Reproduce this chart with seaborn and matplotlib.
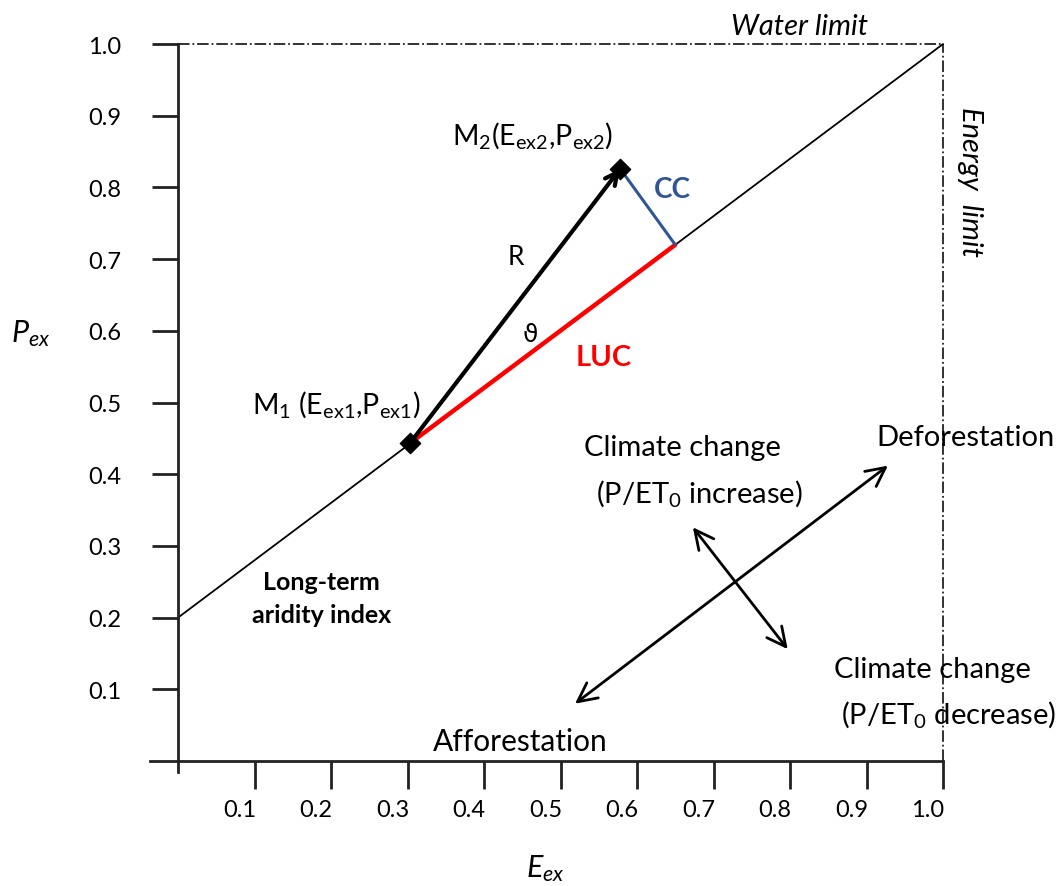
import matplotlib
matplotlib.use("Agg")
import matplotlib.pyplot as plt
import matplotlib.transforms as mtransforms
import seaborn as sns
import pandas as pd

# ---- values read from the schematic (data units, 0..1) ----
aridity_x = [0.0, 1.0]
aridity_y = [0.2, 1.0]

m1 = (0.303, 0.443)          # M1 (Eex1, Pex1)
m2 = (0.578, 0.826)          # M2 (Eex2, Pex2)
cc_foot = (0.650, 0.720)     # projection of M2 onto the aridity line

forest_arrow = [(0.519, 0.080), (0.928, 0.412)]   # afforestation <-> deforestation
climate_arrow = [(0.673, 0.326), (0.797, 0.156)]  # P/ET0 increase <-> decrease

ticks = [0.1, 0.2, 0.3, 0.4, 0.5, 0.6, 0.7, 0.8, 0.9, 1.0]
tick_labels = ["0.1", "0.2", "0.3", "0.4", "0.5", "0.6", "0.7", "0.8", "0.9", "1.0"]

sns.set_style("white")
plt.rcParams["font.family"] = ["Lato", "DejaVu Sans"]
plt.rcParams["text.color"] = "black"
plt.rcParams["mathtext.fontset"] = "custom"
plt.rcParams["mathtext.rm"] = "Lato"
plt.rcParams["mathtext.it"] = "Lato:italic"
plt.rcParams["mathtext.bf"] = "Lato:bold"

fig = plt.figure(figsize=(10.57, 8.87), dpi=100)
ax = fig.add_axes([0, 0, 1, 1])
ax.set_xlim(-0.2327, 1.149)
ax.set_ylim(-0.1743, 1.0628)

# axes drawn through the origin
for s in ["top", "right"]:
    ax.spines[s].set_visible(False)
ax.spines["left"].set_position(("data", 0))
ax.spines["bottom"].set_position(("data", 0))
ax.spines["left"].set_bounds(-0.015, 1.0)
ax.spines["bottom"].set_bounds(-0.037, 1.0)
for s in ["left", "bottom"]:
    ax.spines[s].set_linewidth(2)
    ax.spines[s].set_color("#222222")

ax.set_xticks(ticks)
ax.set_xticklabels(tick_labels)
ax.set_yticks(ticks)
ax.set_yticklabels(tick_labels)
ax.tick_params(axis="x", direction="out", length=20, width=2, pad=7,
               labelsize=17, color="#222222", labelcolor="black", bottom=True)
ax.tick_params(axis="y", direction="out", length=19, width=2, pad=22,
               labelsize=17, color="#222222", labelcolor="black", left=True)
off = mtransforms.ScaledTranslation(-0.15, 0, fig.dpi_scale_trans)
for lab in ax.get_xticklabels():
    lab.set_transform(lab.get_transform() + off)

# water / energy limits
ax.plot([0, 1], [1, 1], ls="-.", color="#222222", lw=1.3)
ax.plot([1, 1], [0, 1], ls="-.", color="#222222", lw=1.3)

# long-term aridity index line
df_line = pd.DataFrame({"x": aridity_x, "y": aridity_y})
sns.lineplot(data=df_line, x="x", y="y", ax=ax, color="black", lw=1.3)

# LUC and CC components
ax.plot([m1[0], cc_foot[0]], [m1[1], cc_foot[1]], color="#ff0000", lw=3.2)
ax.plot([m2[0], cc_foot[0]], [m2[1], cc_foot[1]], color="#2f5597", lw=2.2)

# R vector
ax.annotate("", xy=m2, xytext=m1,
            arrowprops=dict(arrowstyle="->", lw=3, color="black",
                            mutation_scale=22, shrinkA=0, shrinkB=0))

df_pts = pd.DataFrame({"x": [m1[0], m2[0]], "y": [m1[1], m2[1]]})
sns.scatterplot(data=df_pts, x="x", y="y", ax=ax, marker="D", s=110,
                color="black", edgecolor="black", zorder=5)

# direction arrows
for a, b in [forest_arrow, climate_arrow]:
    ax.annotate("", xy=b, xytext=a,
                arrowprops=dict(arrowstyle="<->", lw=2, color="black",
                                mutation_scale=34, shrinkA=0, shrinkB=0))

ax.set_xlabel("")
ax.set_ylabel("")

# labels
ax.text(0.812, 1.025, "Water limit", style="italic", fontsize=21,
        ha="center", va="center")
ax.text(1.035, 0.809, "Energy  limit", style="italic", fontsize=21,
        ha="center", va="center", rotation=-90)
ax.text(0.358, 0.874, r"M$_2$(E$_{\mathrm{ex2}}$,P$_{\mathrm{ex2}}$)",
        fontsize=20.5, ha="left", va="center")
ax.text(0.097, 0.498, r"M$_1$ (E$_{\mathrm{ex1}}$,P$_{\mathrm{ex1}}$)",
        fontsize=20.5, ha="left", va="center")
ax.text(0.646, 0.798, "CC", color="#2f5597", fontweight="bold", fontsize=20,
        ha="center", va="center")
ax.text(0.441, 0.703, "R", fontsize=19, ha="center", va="center")
ax.text(0.460, 0.596, "\u03d1", fontsize=18, ha="center", va="center",
        family=["DejaVu Sans"])
ax.text(0.556, 0.563, "LUC", color="#ff0000", fontweight="bold", fontsize=21,
        ha="center", va="center")
ax.text(0.660, 0.438, "Climate change", fontsize=21, ha="center", va="center")
ax.text(0.682, 0.375, r"(P/ET$_0$ increase)", fontsize=21, ha="center", va="center")
ax.text(1.030, 0.452, "Deforestation", fontsize=21, ha="center", va="center")
ax.text(0.187, 0.250, "Long-term", fontsize=18, fontweight="bold",
        ha="center", va="center")
ax.text(0.187, 0.205, "aridity index", fontsize=18, fontweight="bold",
        ha="center", va="center")
ax.text(0.447, 0.028, "Afforestation", fontsize=21.5, ha="center", va="center")
ax.text(0.986, 0.128, "Climate change", fontsize=21, ha="center", va="center")
ax.text(1.007, 0.066, r"(P/ET$_0$ decrease)", fontsize=21, ha="center", va="center")
ax.text(-0.193, 0.598, r"$P_{ex}$", fontsize=22, ha="center", va="center")
ax.text(0.48, -0.148, r"$E_{ex}$", fontsize=22, ha="center", va="center")

fig.savefig("out.png", dpi=100)
